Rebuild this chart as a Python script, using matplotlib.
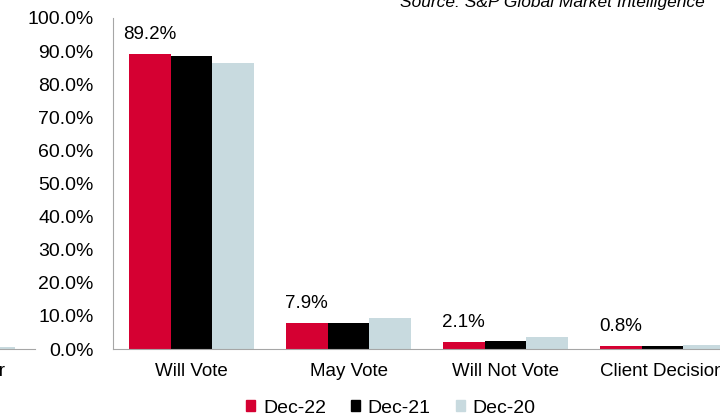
"""Bar chart of voting intentions by period."""

import matplotlib
matplotlib.use("Agg")
import matplotlib.pyplot as plt
import numpy as np
from matplotlib.patches import Patch
from matplotlib.ticker import PercentFormatter

categories = ["Will Vote", "May Vote", "Will Not Vote", "Client Decision"]
series_names = ["Dec-22", "Dec-21", "Dec-20"]
dec22 = [89.2, 7.9, 2.1, 0.8]
dec21 = [88.5, 8.0, 2.5, 0.9]
dec20 = [86.3, 9.4, 3.6, 1.2]

# tail of the neighbouring panel that shows at the left edge
prev_categories = ["Absent Voter"]
prev_dec22 = [0.5]
prev_dec21 = [0.6]
prev_dec20 = [0.7]

colors = ["#D50032", "#000000", "#C8DADF"]
axis_grey = "#A6A6A6"

plt.rcParams["font.family"] = ["Liberation Sans", "DejaVu Sans"]

W, H = 720, 419
fig = plt.figure(figsize=(W / 100, H / 100), dpi=100)

bottom = (H - 349) / H
height = 331 / H
unit = 157  # pixels per category
bar_w = 0.267


def draw_bars(ax, cats, values):
    x = np.arange(len(cats))
    for i, (vals, c) in enumerate(zip(values, colors)):
        ax.bar(x + (i - 1) * bar_w, vals, bar_w, color=c, linewidth=0)
    ax.set_xticks(x)
    ax.set_xticklabels(cats)
    ax.set_ylim(0, 100)
    for s in ["top", "right"]:
        ax.spines[s].set_visible(False)
    ax.spines["bottom"].set_color(axis_grey)
    ax.spines["left"].set_color(axis_grey)
    ax.tick_params(axis="x", length=0, pad=10, labelsize=13.5)
    return x


# clipped neighbour panel on the left (drawn first, no background)
prev_right = 35
prev_width = 1.03 * unit
ax0 = fig.add_axes([(prev_right - prev_width) / W, bottom, prev_width / W, height])
ax0.patch.set_visible(False)
draw_bars(ax0, prev_categories, [prev_dec22, prev_dec21, prev_dec20])
ax0.set_xlim(-0.5, 0.53)
ax0.spines["left"].set_visible(False)
ax0.set_yticks([])

# main panel
left_px = 113
ax = fig.add_axes([left_px / W, bottom, (W - left_px) / W, height])
ax.patch.set_visible(False)
x = draw_bars(ax, categories, [dec22, dec21, dec20])
ax.set_xlim(-0.5, (W - left_px) / unit - 0.5)
ax.yaxis.set_major_formatter(PercentFormatter(decimals=1))
ax.set_yticks(np.arange(0, 101, 10))
ax.tick_params(axis="y", length=0, pad=14, labelsize=14)
for xi, v in zip(x, dec22):
    ax.annotate(f"{v:.1f}%", (xi - bar_w, v), xytext=(0, 14),
                textcoords="offset points", ha="center", va="center",
                fontsize=13.5)

fig.text(705 / W, 1 - 3 / H, "Source: S&P Global Market Intelligence",
         ha="right", va="center", fontsize=12.5, style="italic")

handles = [Patch(color=c, label=n) for c, n in zip(colors, series_names)]
fig.legend(handles=handles, loc="center", bbox_to_anchor=(391 / W, 1 - 408 / H),
           ncol=3, frameon=False, fontsize=14, handlelength=0.45,
           handleheight=0.45, handletextpad=0.4, columnspacing=1.3,
           borderpad=0)

fig.savefig("out.png", dpi=100)
